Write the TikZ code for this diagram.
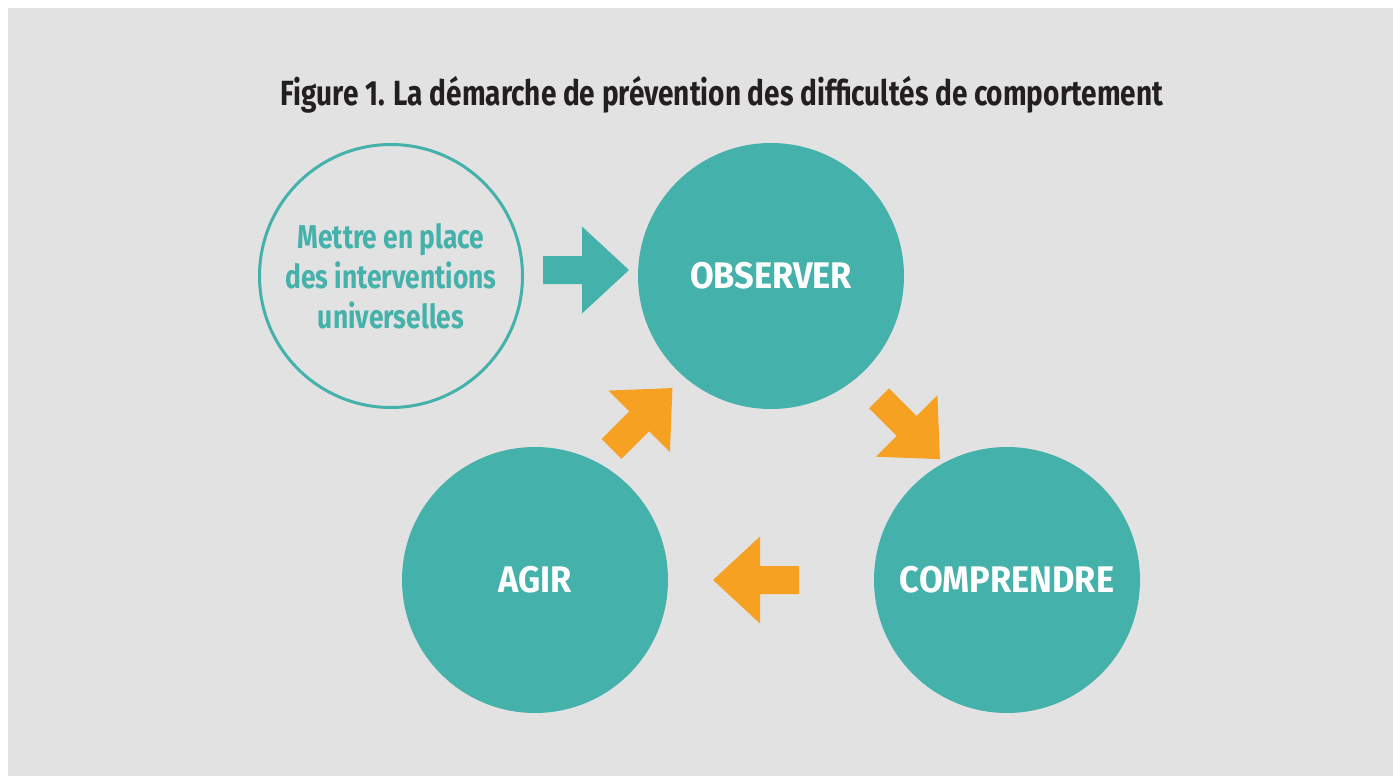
\documentclass[tikz,border=0pt]{standalone}
\definecolor{Teal}{RGB}{69,177,171}
\definecolor{Orange}{RGB}{246,161,33}
\definecolor{Backdrop}{RGB}{226,226,226}
\definecolor{Ink}{RGB}{35,31,32}
\usepackage{fontspec}
\newfontfamily\condensed{Fira Sans}[FakeStretch=0.8]
\newfontfamily\capsfont{Fira Sans}[FakeStretch=0.93]
\usetikzlibrary{positioning}
\tikzset{
  step circle/.style={circle, fill=Teal, minimum size=266pt, inner sep=0pt, text=white, font=\capsfont\bfseries\fontsize{37}{40}\selectfont},
  start circle/.style={circle, draw=Teal, line width=3pt, minimum size=263pt, inner sep=0pt, text=Teal, align=center, font=\condensed\bfseries\fontsize{33}{40}\selectfont},
  blockarrow/.pic={\fill (-43,-14) -- (-4,-14) -- (-4,-43.5) -- (43,0) -- (-4,43.5) -- (-4,14) -- (-43,14) -- cycle;}
}

\begin{document}
\begin{tikzpicture}[x=1pt, y=-1pt]
\useasboundingbox (0,0) rectangle (1393,776);
%backdrop
\fill[Backdrop] (8,8) rectangle (1393,776);
%title
\node[anchor=base, text=Ink, font=\condensed\bfseries\fontsize{35}{40}\selectfont] (title) at (722,106) {Figure 1. La démarche de prévention des difficultés de comportement};
%circles
\node[start circle] (universal) at (391,276) {Mettre en place\\des interventions\\universelles};
\node[step circle] (observer) at (771,276) {OBSERVER};
\node[step circle] (comprendre) at (1007,580) {COMPRENDRE};
\node[step circle] (agir) at (535,580) {AGIR};
%arrows
\pic[fill=Teal] at (586,270) {blockarrow};
\pic[fill=Orange, rotate=-45] at (909.5,428.75) {blockarrow};
\pic[fill=Orange, rotate=180] at (756,580) {blockarrow};
\pic[fill=Orange, rotate=45] at (642,418.5) {blockarrow};
\end{tikzpicture}
\end{document}
